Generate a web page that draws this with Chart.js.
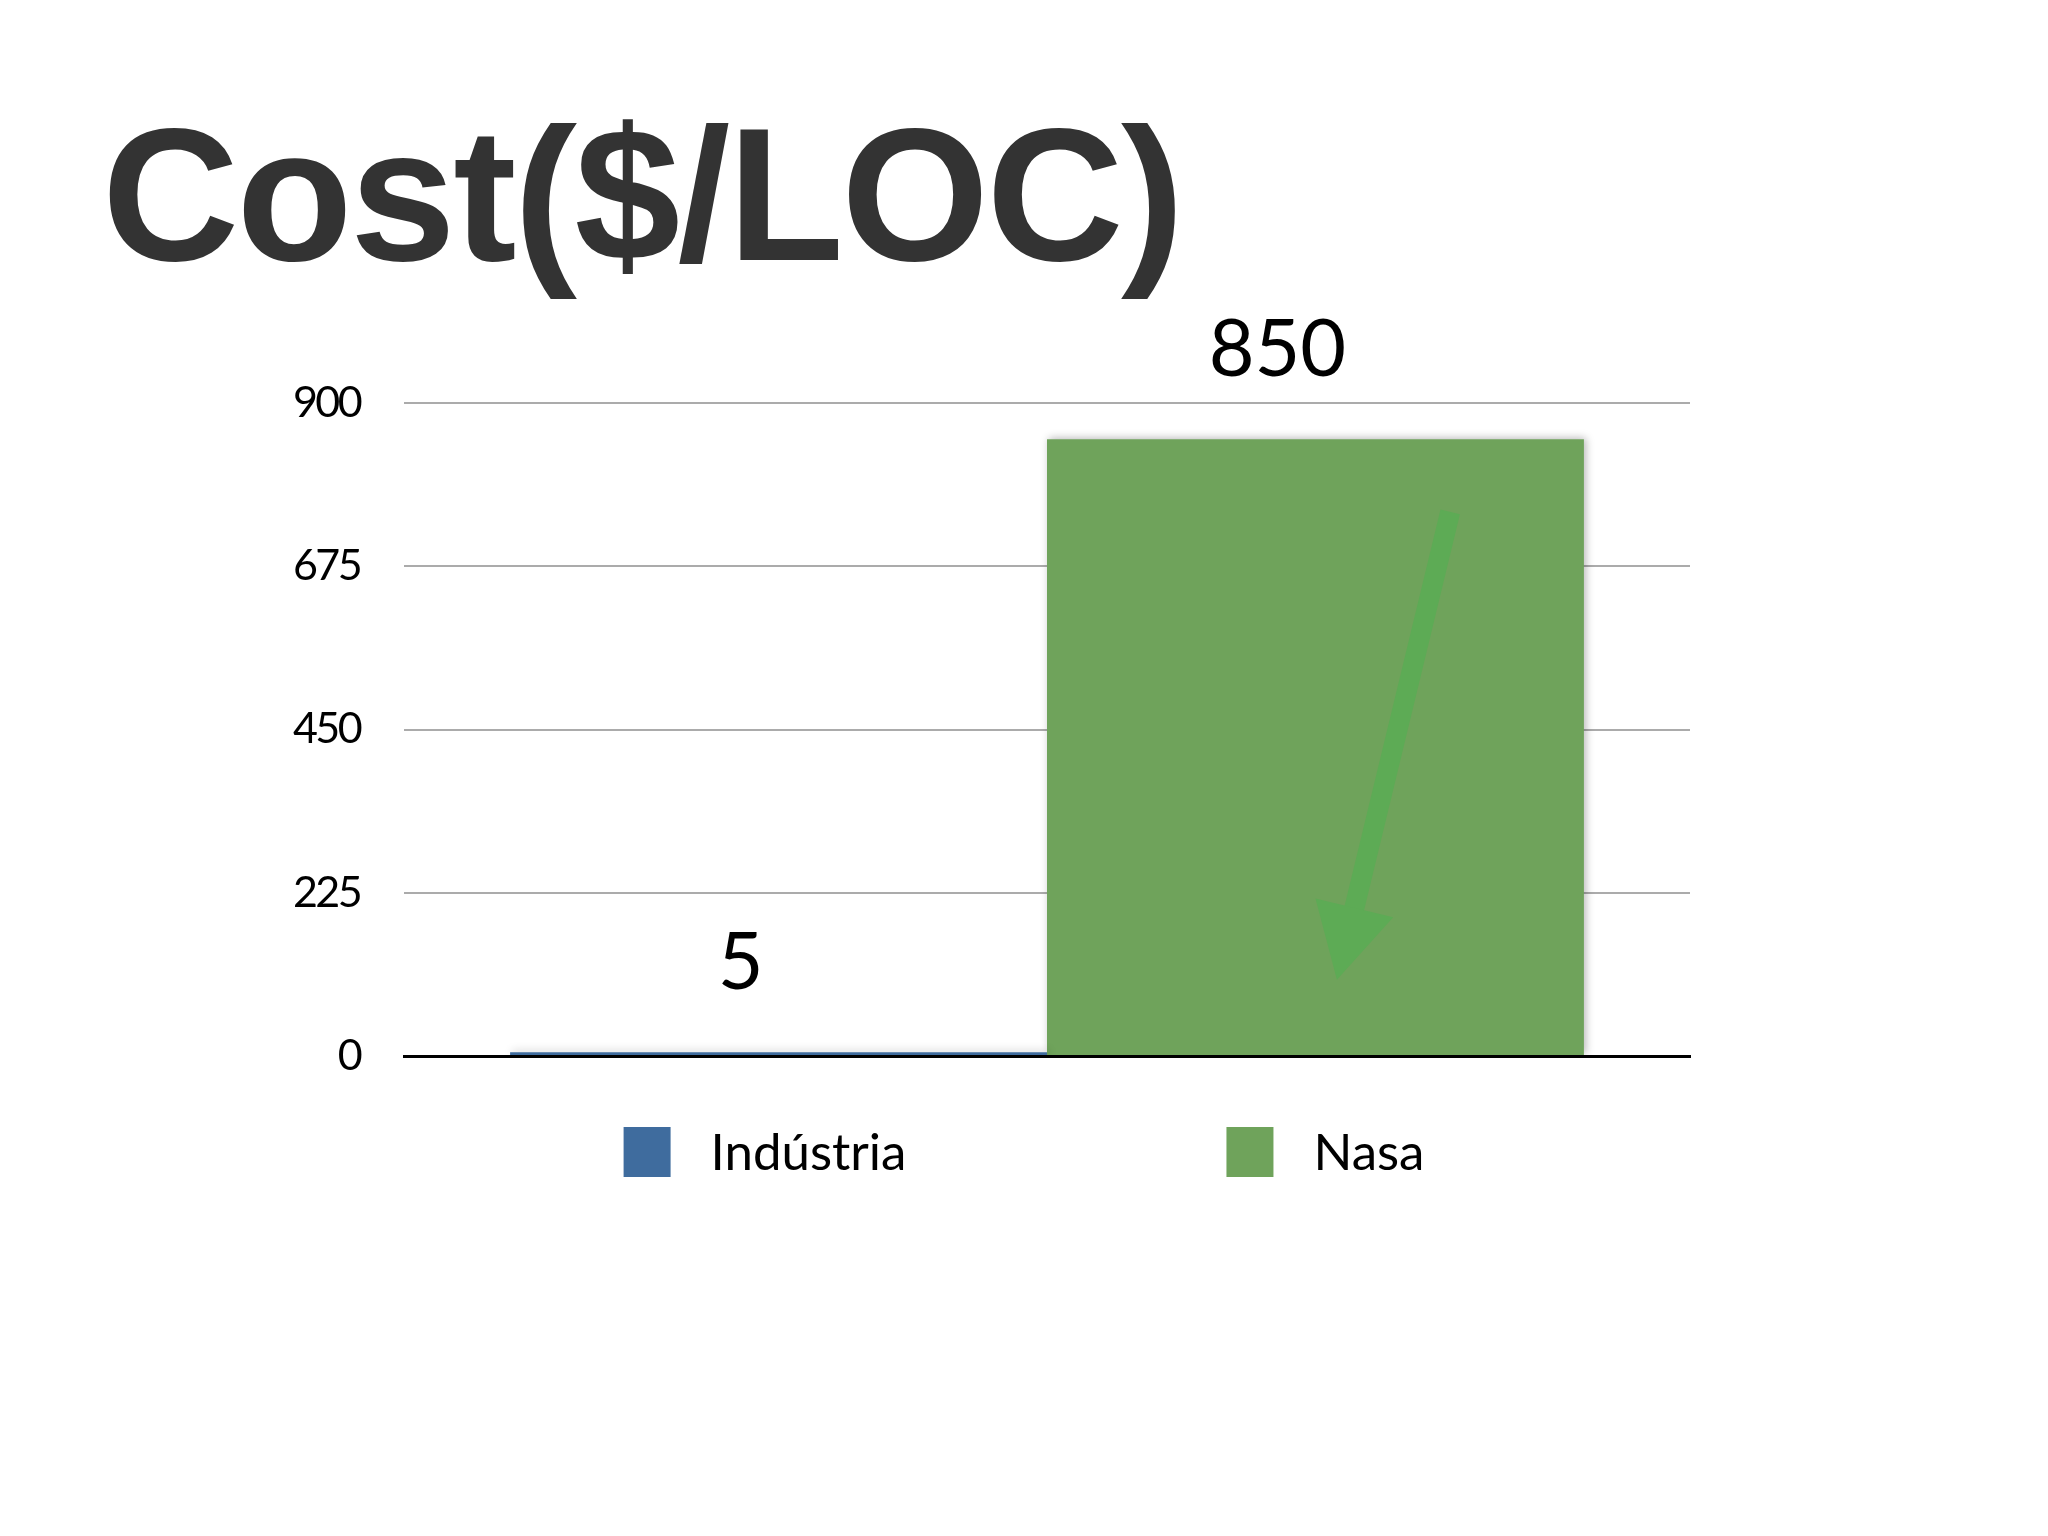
<!DOCTYPE html>
<html>
<head>
<meta charset="utf-8">
<title>Cost($/LOC)</title>
<script src="https://cdn.jsdelivr.net/npm/chart.js@4"></script>
<style>
  html, body { margin: 0; padding: 0; background: #fff; }
  #wrap { width: 2048px; height: 1536px; }
</style>
</head>
<body>
<div id="wrap"><canvas id="costChart" width="2048" height="1536"></canvas></div>
<script>
// Data
const categories = ['Cost($/LOC)'];
const seriesNames = ['Indústria', 'Nasa'];
const seriesValues = [[5], [850]];
const seriesColors = ['#3f6c9e', '#6fa35b'];
const yTicks = [0, 225, 450, 675, 900];

const labelFont = 'Lato, "Open Sans", sans-serif';

// tighter tracking for the title and axis text (drawn before the datasets)
const tightText = {
  id: 'tightText',
  beforeDraw(chart) { chart.ctx.letterSpacing = '-2.6px'; },
  beforeDatasetsDraw(chart) { chart.ctx.letterSpacing = '0px'; }
};

// soft drop shadow under the bars
const barShadow = {
  id: 'barShadow',
  beforeDatasetsDraw(chart) {
    const ctx = chart.ctx;
    ctx.save();
    ctx.shadowColor = 'rgba(0,0,0,0.28)';
    ctx.shadowBlur = 8;
    ctx.shadowOffsetX = 2;
    ctx.shadowOffsetY = -1;
  },
  afterDatasetsDraw(chart) {
    chart.ctx.restore();
  }
};

// arrow painted over the Nasa bar (placed relative to the bar and the y scale)
const barArrow = {
  id: 'barArrow',
  afterDatasetsDraw(chart, args, opts) {
    const bar = chart.getDatasetMeta(opts.dataset).data[0];
    if (!bar) return;
    const y = chart.scales.y;
    const left = bar.x - bar.width / 2;
    const sx = left + bar.width * opts.from[0], sy = y.getPixelForValue(opts.from[1]);
    const tx = left + bar.width * opts.to[0], ty = y.getPixelForValue(opts.to[1]);
    const len = Math.hypot(tx - sx, ty - sy);
    const ux = (tx - sx) / len, uy = (ty - sy) / len;
    const bx = tx - ux * opts.headLength, by = ty - uy * opts.headLength;
    const ctx = chart.ctx;
    ctx.save();
    ctx.strokeStyle = opts.color;
    ctx.fillStyle = opts.color;
    ctx.lineWidth = opts.width;
    ctx.beginPath();
    ctx.moveTo(sx, sy);
    ctx.lineTo(bx + ux * 4, by + uy * 4);
    ctx.stroke();
    ctx.beginPath();
    ctx.moveTo(tx, ty);
    ctx.lineTo(bx - uy * opts.headHalf, by + ux * opts.headHalf);
    ctx.lineTo(bx + uy * opts.headHalf, by - ux * opts.headHalf);
    ctx.closePath();
    ctx.fill();
    ctx.restore();
  }
};

// value labels above each bar
const valueLabels = {
  id: 'valueLabels',
  afterDatasetsDraw(chart, args, opts) {
    const ctx = chart.ctx;
    ctx.save();
    ctx.font = opts.size + 'px ' + labelFont;
    ctx.fillStyle = '#000';
    ctx.textAlign = 'center';
    ctx.textBaseline = 'alphabetic';
    chart.data.datasets.forEach((ds, i) => {
      chart.getDatasetMeta(i).data.forEach((el, j) => {
        ctx.fillText(String(ds.data[j]), el.x + opts.dx, el.y + opts.dy);
      });
    });
    ctx.restore();
  }
};

// legend row under the plot
const bottomLegend = {
  id: 'bottomLegend',
  afterDraw(chart, args, opts) {
    const ctx = chart.ctx;
    ctx.save();
    ctx.font = opts.size + 'px ' + labelFont;
    const items = chart.data.datasets.map(ds => ({
      text: ds.label,
      color: ds.backgroundColor,
      w: opts.boxW + opts.textGap + ctx.measureText(ds.label).width
    }));
    const total = items.reduce((s, it) => s + it.w, 0) + opts.itemGap * (items.length - 1);
    let x = chart.width / 2 - total / 2;
    const cy = chart.chartArea.bottom + opts.offsetY;
    ctx.textBaseline = 'middle';
    ctx.textAlign = 'left';
    items.forEach(it => {
      ctx.fillStyle = it.color;
      ctx.fillRect(x, cy - opts.boxH / 2, opts.boxW, opts.boxH);
      ctx.fillStyle = '#000';
      ctx.fillText(it.text, x + opts.boxW + opts.textGap, cy + 2);
      x += it.w + opts.itemGap;
    });
    ctx.restore();
  }
};

const ctx = document.getElementById('costChart').getContext('2d');
const chart = new Chart(ctx, {
  type: 'bar',
  data: {
    labels: categories,
    datasets: seriesNames.map((name, i) => ({
      label: name,
      data: seriesValues[i],
      backgroundColor: seriesColors[i],
      borderWidth: 0,
      categoryPercentage: 0.835,
      barPercentage: 1.0
    }))
  },
  options: {
    responsive: false,
    devicePixelRatio: 1,
    animation: false,
    layout: { padding: { left: 102, top: 94, right: 358, bottom: 480 } },
    scales: {
      x: {
        z: 1,
        grid: { display: false, drawTicks: false },
        ticks: { display: false },
        border: { display: true, color: '#000', width: 3 },
        afterFit(scale) { scale.height = 0; }
      },
      y: {
        min: 0,
        max: 900,
        afterBuildTicks(scale) { scale.ticks = yTicks.map(v => ({ value: v })); },
        afterFit(scale) { scale.width = 302; },
        grid: { color: '#ababab', lineWidth: 2, drawTicks: false },
        border: { display: false },
        ticks: { color: '#000', padding: 44, font: { family: labelFont, size: 43 } }
      }
    },
    plugins: {
      legend: { display: false },
      tooltip: { enabled: false },
      title: {
        display: true,
        text: 'Cost($/LOC)',
        align: 'start',
        color: '#333333',
        font: { family: '"Liberation Sans", Arial, sans-serif', size: 190, weight: 'bold', lineHeight: 1.2 },
        padding: { top: 0, bottom: 81 }
      },
      barArrow: { dataset: 1, from: [0.751, 750], to: [0.54, 105], width: 20, headLength: 74, headHalf: 40, color: '#5dab55' },
      valueLabels: { size: 79, dx: -38, dy: -63 },
      bottomLegend: { size: 51, boxW: 47, boxH: 50, textGap: 40, itemGap: 320, offsetY: 96 }
    }
  },
  plugins: [tightText, barShadow, barArrow, valueLabels, bottomLegend]
});
</script>
</body>
</html>
